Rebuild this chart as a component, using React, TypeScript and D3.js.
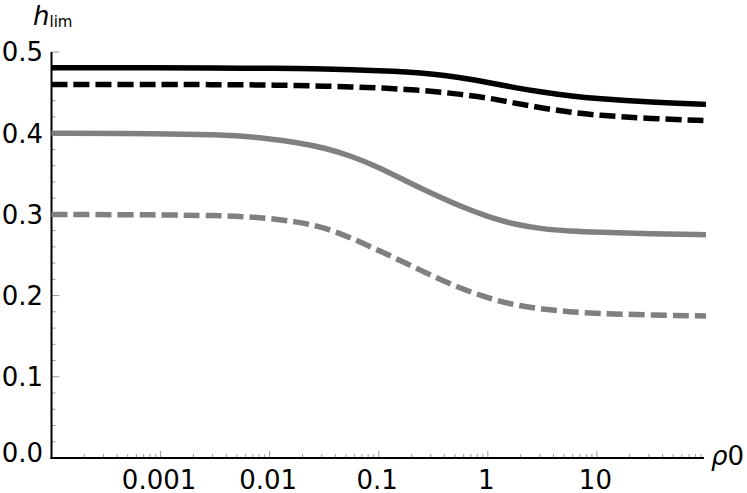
import React, { useRef, useEffect } from "react";
import * as d3 from "d3";

// rho0 sample points (log axis, quarter decades in the transition) and h_lim for the four curves
const rho = [1e-4, 1e-3, 0.00316, 0.00562, 0.01, 0.0178, 0.0316, 0.0562, 0.1, 0.178, 0.316, 0.562, 1, 1.78, 3.16, 5.62, 10, 31.6, 100];
const blackSolid = [0.4805, 0.4805, 0.4803, 0.4801, 0.48, 0.4796, 0.479, 0.478, 0.477, 0.4755, 0.473, 0.4685, 0.4625, 0.456, 0.4505, 0.446, 0.4425, 0.438, 0.4355];
const blackDashed = [0.46, 0.46, 0.4598, 0.4596, 0.4593, 0.4588, 0.458, 0.457, 0.4558, 0.454, 0.4515, 0.448, 0.4435, 0.437, 0.431, 0.4258, 0.422, 0.418, 0.4155];
const greySolid = [0.4, 0.3995, 0.398, 0.3965, 0.393, 0.3885, 0.382, 0.372, 0.358, 0.341, 0.325, 0.31, 0.297, 0.2875, 0.282, 0.2795, 0.278, 0.276, 0.275];
const greyDashed = [0.3, 0.2995, 0.2985, 0.2975, 0.295, 0.291, 0.284, 0.271, 0.2555, 0.24, 0.2235, 0.209, 0.197, 0.188, 0.1833, 0.18, 0.178, 0.176, 0.175];

const xTickValues = [0.001, 0.01, 0.1, 1, 10];
const xTickLabels = ["0.001", "0.01", "0.1", "1", "10"];
const yTickValues = [0, 0.1, 0.2, 0.3, 0.4, 0.5];

const series = [
  { values: greyDashed, color: "#808080", dash: "16,6" },
  { values: greySolid, color: "#808080", dash: null },
  { values: blackDashed, color: "#000000", dash: "16,6" },
  { values: blackSolid, color: "#000000", dash: null },
];

const W = 747,
  H = 493;
const FONT = "DejaVu Sans, sans-serif";

function Chart() {
  const svgRef = useRef(null);

  function render() {
    const svg = d3.select(svgRef.current);
    svg.selectAll("*").remove();

    const x = d3.scaleLog().domain([1e-4, 100]).range([51.5, 706]);
    const y = d3.scaleLinear().domain([0, 0.5]).range([458, 52]);

    // minor + major x ticks (pointing up, inside)
    const xTicks = [];
    for (let d = -4; d <= 1; d++) {
      for (let k = 1; k <= 9; k++) {
        const v = k * Math.pow(10, d);
        if (v <= 1e-4 * 1.001 || v > 100) continue;
        xTicks.push({ v: v, major: k === 1 });
      }
    }
    svg
      .append("g")
      .selectAll("line")
      .data(xTicks)
      .join("line")
      .attr("x1", (d) => x(d.v))
      .attr("x2", (d) => x(d.v))
      .attr("y1", y(0))
      .attr("y2", (d) => y(0) - (d.major ? 7 : 4))
      .attr("stroke", "#999")
      .attr("stroke-width", 1);

    // y ticks every 0.02, major every 0.1
    const yTicks = d3.range(0, 26).map((i) => ({ v: i * 0.02, major: i % 5 === 0 }));
    svg
      .append("g")
      .selectAll("line")
      .data(yTicks.filter((d) => d.v > 0))
      .join("line")
      .attr("x1", x(1e-4))
      .attr("x2", (d) => x(1e-4) + (d.major ? 8 : 4))
      .attr("y1", (d) => y(d.v))
      .attr("y2", (d) => y(d.v))
      .attr("stroke", "#999")
      .attr("stroke-width", 1);

    // axes lines
    svg
      .append("line")
      .attr("x1", x(1e-4))
      .attr("x2", x(1e-4))
      .attr("y1", y(0.5))
      .attr("y2", y(0) + 1)
      .attr("stroke", "#000")
      .attr("stroke-width", 2);
    svg
      .append("line")
      .attr("x1", x(1e-4) - 1)
      .attr("x2", 704)
      .attr("y1", y(0))
      .attr("y2", y(0))
      .attr("stroke", "#000")
      .attr("stroke-width", 2);

    // tick labels
    svg
      .append("g")
      .selectAll("text")
      .data(xTickValues)
      .join("text")
      .attr("x", (d) => x(d) - 1.5)
      .attr("y", 489)
      .attr("text-anchor", "middle")
      .attr("font-family", FONT)
      .attr("font-size", 26)
      .text((d, i) => xTickLabels[i]);

    svg
      .append("g")
      .selectAll("text")
      .data(yTickValues)
      .join("text")
      .attr("x", 43)
      .attr("y", (d) => y(d) + (d === 0 ? -5 : 0))
      .attr("dy", "0.36em")
      .attr("text-anchor", "end")
      .attr("font-family", FONT)
      .attr("font-size", 26)
      .text((d) => d3.format(".1f")(d));

    // curves
    const line = d3
      .line()
      .x((d) => x(d[0]))
      .y((d) => y(d[1]))
      .curve(d3.curveBasis);

    series.forEach((s) => {
      svg
        .append("path")
        .attr("d", line(rho.map((r, i) => [r, s.values[i]])))
        .attr("fill", "none")
        .attr("stroke", s.color)
        .attr("stroke-width", 5.5)
        .attr("stroke-dasharray", s.dash);
    });

    // axis titles
    const ht = svg
      .append("text")
      .attr("x", 33)
      .attr("y", 25)
      .attr("font-family", FONT)
      .attr("font-size", 26);
    ht.append("tspan").attr("font-style", "italic").text("h");
    ht.append("tspan").attr("font-size", 15).attr("dy", 2).text("lim");

    const rt = svg
      .append("text")
      .attr("x", 711)
      .attr("y", 465)
      .attr("font-family", FONT)
      .attr("font-size", 26);
    rt.append("tspan").attr("font-style", "italic").text("ρ");
    rt.append("tspan").text("0");
  }

  useEffect(() => {
    render();
  }, []);

  return (
    <svg
      ref={svgRef}
      width={W}
      height={H}
      style={{ position: "absolute", left: 0, top: 0, background: "#fff" }}
    />
  );
}

export default function App() {
  return <Chart />;
}
